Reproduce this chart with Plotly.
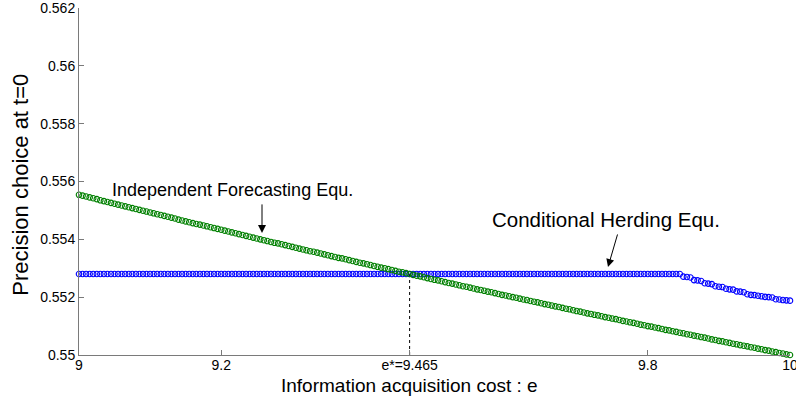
import plotly.graph_objects as go

# ---- data ----
x_start = 9.0
x_step = 0.005

herding_flat = [
    0.5528, 0.5528, 0.5528, 0.5528, 0.5528, 0.5528, 0.5528, 0.5528, 0.5528, 0.5528,
    0.5528, 0.5528, 0.5528, 0.5528, 0.5528, 0.5528, 0.5528, 0.5528, 0.5528, 0.5528,
    0.5528, 0.5528, 0.5528, 0.5528, 0.5528, 0.5528, 0.5528, 0.5528, 0.5528, 0.5528,
    0.5528, 0.5528, 0.5528, 0.5528, 0.5528, 0.5528, 0.5528, 0.5528, 0.5528, 0.5528,
    0.5528, 0.5528, 0.5528, 0.5528, 0.5528, 0.5528, 0.5528, 0.5528, 0.5528, 0.5528,
    0.5528, 0.5528, 0.5528, 0.5528, 0.5528, 0.5528, 0.5528, 0.5528, 0.5528, 0.5528,
    0.5528, 0.5528, 0.5528, 0.5528, 0.5528, 0.5528, 0.5528, 0.5528, 0.5528, 0.5528,
    0.5528, 0.5528, 0.5528, 0.5528, 0.5528, 0.5528, 0.5528, 0.5528, 0.5528, 0.5528,
    0.5528, 0.5528, 0.5528, 0.5528, 0.5528, 0.5528, 0.5528, 0.5528, 0.5528, 0.5528,
    0.5528, 0.5528, 0.5528, 0.5528, 0.5528, 0.5528, 0.5528, 0.5528, 0.5528, 0.5528,
    0.5528, 0.5528, 0.5528, 0.5528, 0.5528, 0.5528, 0.5528, 0.5528, 0.5528, 0.5528,
    0.5528, 0.5528, 0.5528, 0.5528, 0.5528, 0.5528, 0.5528, 0.5528, 0.5528, 0.5528,
    0.5528, 0.5528, 0.5528, 0.5528, 0.5528, 0.5528, 0.5528, 0.5528, 0.5528, 0.5528,
    0.5528, 0.5528, 0.5528, 0.5528, 0.5528, 0.5528, 0.5528, 0.5528, 0.5528, 0.5528,
    0.5528, 0.5528, 0.5528, 0.5528, 0.5528, 0.5528, 0.5528, 0.5528, 0.5528, 0.5528,
    0.5528, 0.5528, 0.5528, 0.5528, 0.5528, 0.5528, 0.5528, 0.5528, 0.5528, 0.5528,
    0.5528, 0.5528, 0.5528, 0.5528, 0.5528, 0.5528, 0.5528, 0.5528, 0.5528, 0.5528,
]
herding_tail = [
    0.55271, 0.55270, 0.55268, 0.55259, 0.55258, 0.55256, 0.55248, 0.55247,
    0.55245, 0.55238, 0.55236, 0.55235, 0.55229, 0.55227, 0.55226, 0.55220,
    0.55219, 0.55217, 0.55210, 0.55208, 0.55207, 0.55205, 0.55203, 0.55201,
    0.55200, 0.55199, 0.55193, 0.55192, 0.55190, 0.55189, 0.55188,
]
herding_values = herding_flat + herding_tail

independent_values = [
    0.55554, 0.55551, 0.55548, 0.55545, 0.55542, 0.55539, 0.55535, 0.55532, 0.55529, 0.55526,
    0.55523, 0.55520, 0.55517, 0.55514, 0.55511, 0.55508, 0.55505, 0.55502, 0.55499, 0.55496,
    0.55493, 0.55490, 0.55487, 0.55484, 0.55481, 0.55478, 0.55475, 0.55472, 0.55468, 0.55465,
    0.55462, 0.55459, 0.55456, 0.55453, 0.55451, 0.55448, 0.55445, 0.55442, 0.55439, 0.55436,
    0.55433, 0.55430, 0.55427, 0.55424, 0.55421, 0.55418, 0.55415, 0.55412, 0.55409, 0.55406,
    0.55403, 0.55400, 0.55397, 0.55394, 0.55391, 0.55388, 0.55386, 0.55383, 0.55380, 0.55377,
    0.55374, 0.55371, 0.55368, 0.55365, 0.55362, 0.55359, 0.55357, 0.55354, 0.55351, 0.55348,
    0.55345, 0.55342, 0.55339, 0.55336, 0.55334, 0.55331, 0.55328, 0.55325, 0.55322, 0.55319,
    0.55317, 0.55314, 0.55311, 0.55308, 0.55305, 0.55302, 0.55300, 0.55297, 0.55294, 0.55291,
    0.55288, 0.55286, 0.55283, 0.55280, 0.55277, 0.55274, 0.55272, 0.55269, 0.55266, 0.55263,
    0.55260, 0.55258, 0.55255, 0.55252, 0.55249, 0.55247, 0.55244, 0.55241, 0.55238, 0.55236,
    0.55233, 0.55230, 0.55227, 0.55225, 0.55222, 0.55219, 0.55217, 0.55214, 0.55211, 0.55208,
    0.55206, 0.55203, 0.55200, 0.55198, 0.55195, 0.55192, 0.55190, 0.55187, 0.55184, 0.55182,
    0.55179, 0.55176, 0.55174, 0.55171, 0.55168, 0.55166, 0.55163, 0.55160, 0.55158, 0.55155,
    0.55152, 0.55150, 0.55147, 0.55144, 0.55142, 0.55139, 0.55137, 0.55134, 0.55131, 0.55129,
    0.55126, 0.55124, 0.55121, 0.55118, 0.55116, 0.55113, 0.55111, 0.55108, 0.55105, 0.55103,
    0.55100, 0.55098, 0.55095, 0.55093, 0.55090, 0.55087, 0.55085, 0.55082, 0.55080, 0.55077,
    0.55075, 0.55072, 0.55070, 0.55067, 0.55065, 0.55062, 0.55060, 0.55057, 0.55054, 0.55052,
    0.55049, 0.55047, 0.55044, 0.55042, 0.55039, 0.55037, 0.55034, 0.55032, 0.55030, 0.55027,
    0.55025, 0.55022, 0.55020, 0.55017, 0.55015, 0.55012, 0.55010, 0.55007, 0.55005, 0.55002,
    0.55000,
]

e_star = 9.465
e_star_level = 0.5528

x_tick_vals = [9, 9.2, 9.465, 9.8, 10]
x_tick_text = ["9", "9.2", "e*=9.465", "9.8", "10"]
y_tick_vals = [0.55, 0.552, 0.554, 0.556, 0.558, 0.56, 0.562]
y_tick_text = ["0.55", "0.552", "0.554", "0.556", "0.558", "0.56", "0.562"]

# ---- figure ----
FONT = "Liberation Sans, Arial, sans-serif"
AXIS_GRAY = "#7a7a7a"

fig = go.Figure()
fig.add_trace(go.Scatter(
    x0=x_start, dx=x_step, y=herding_values, mode="markers",
    marker=dict(symbol="circle-open", size=5.5, color="#0000ff", line=dict(width=1.1, color="#0000ff")),
    cliponaxis=False, showlegend=False, name="Conditional Herding Equ.",
))
fig.add_trace(go.Scatter(
    x0=x_start, dx=x_step, y=independent_values, mode="markers",
    marker=dict(symbol="circle-open", size=5.5, color="#008000", line=dict(width=1.1, color="#008000")),
    cliponaxis=False, showlegend=False, name="Independent Forecasting Equ.",
))

fig.add_shape(type="line", xref="x", yref="y", x0=e_star, x1=e_star, y0=0.55, y1=e_star_level,
              line=dict(color="black", width=1, dash="dot"), layer="below")

# text labels
fig.add_annotation(x=9.2152, y=0.55571, xref="x", yref="y", text="Independent Forecasting Equ.",
                   showarrow=False, font=dict(family=FONT, size=18, color="black"))
fig.add_annotation(x=9.7412, y=0.55470, xref="x", yref="y", text="Conditional Herding Equ.",
                   showarrow=False, font=dict(family=FONT, size=20.5, color="black"))
# arrows
fig.add_annotation(x=9.2574, y=0.55422, ax=9.2574, ay=0.55526, xref="x", yref="y", axref="x", ayref="y",
                   text="", showarrow=True, arrowhead=2, arrowsize=1.6, arrowwidth=1, arrowcolor="black")
fig.add_annotation(x=9.744, y=0.55304, ax=9.758, ay=0.55422, xref="x", yref="y", axref="x", ayref="y",
                   text="", showarrow=True, arrowhead=2, arrowsize=1.6, arrowwidth=1, arrowcolor="black")

# axis titles
fig.add_annotation(x=0.465, y=-0.088, xref="paper", yref="paper", text="Information acquisition cost : e",
                   showarrow=False, xanchor="center", yanchor="middle",
                   font=dict(family=FONT, size=19, color="black"))
fig.add_annotation(x=-0.082, y=0.49, xref="paper", yref="paper", text="Precision choice at t=0",
                   showarrow=False, textangle=-90, xanchor="center", yanchor="middle",
                   font=dict(family=FONT, size=22, color="black"))

fig.update_layout(
    width=796, height=402,
    margin=dict(l=79, r=6, t=8, b=47, autoexpand=False),
    paper_bgcolor="white", plot_bgcolor="white",
    font=dict(family=FONT, color="black"),
    xaxis=dict(
        range=[9, 10], tickmode="array", tickvals=x_tick_vals, ticktext=x_tick_text,
        ticks="inside", ticklen=5, tickcolor=AXIS_GRAY, tickwidth=1,
        showline=True, linecolor=AXIS_GRAY, linewidth=1, showgrid=False, zeroline=False,
        tickfont=dict(family=FONT, size=14, color="black"), automargin=False,
        ticklabeloverflow="allow", ticklabelstandoff=-3,
    ),
    yaxis=dict(
        range=[0.55, 0.562], tickmode="array", tickvals=y_tick_vals, ticktext=y_tick_text,
        ticks="inside", ticklen=5, tickcolor=AXIS_GRAY, tickwidth=1,
        showline=True, linecolor=AXIS_GRAY, linewidth=1, showgrid=False, zeroline=False,
        tickfont=dict(family=FONT, size=14, color="black"), automargin=False,
        ticklabeloverflow="allow",
    ),
)

# remove the default page margin so the figure sits at the window's top-left corner
fig.write_html("out.html", config={"displayModeBar": False},
               post_script="document.body.style.margin='0';")
